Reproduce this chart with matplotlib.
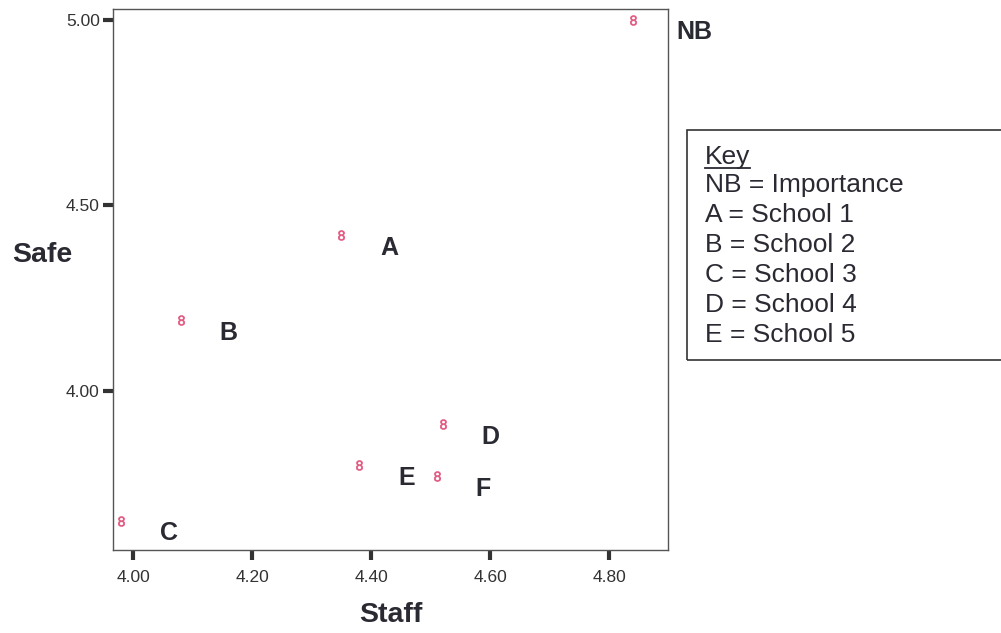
import matplotlib
matplotlib.use("Agg")
import matplotlib.pyplot as plt
from matplotlib.patches import Rectangle
from matplotlib.lines import Line2D

plt.rcParams['font.family'] = ['Liberation Sans', 'DejaVu Sans']

# punts llegits del gràfic (Staff, Safe)
labels = ['NB', 'A', 'B', 'C', 'D', 'E', 'F']
staff = [4.84, 4.35, 4.08, 3.98, 4.52, 4.38, 4.51]
safe = [5.00, 4.42, 4.19, 3.65, 3.91, 3.80, 3.77]

xticks = [4.00, 4.20, 4.40, 4.60, 4.80]
yticks = [4.00, 4.50, 5.00]

key_lines = ['NB = Importance', 'A = School 1', 'B = School 2', 'C = School 3',
             'D = School 4', 'E = School 5']

fig = plt.figure(figsize=(10.01, 6.33), dpi=100)
ax = fig.add_axes([0.1129, 0.1311, 0.5544, 0.8539])

ax.scatter(staff, safe, marker='$8$', s=50, color='#e0507a', linewidths=0.4, zorder=3)

for lab, x, y in zip(labels, staff, safe):
    dx = 31 if lab == 'NB' else 28
    ax.annotate(lab, (x, y), xytext=(dx, -9), textcoords='offset points',
                ha='left', va='center', fontsize=18, fontweight='bold',
                color='#2a2a33', annotation_clip=False)

ax.set_xlim(3.966, 4.899)
ax.set_ylim(3.571, 5.028)
ax.set_xticks(xticks)
ax.set_xticklabels([f'{v:.2f}' for v in xticks])
ax.set_yticks(yticks)
ax.set_yticklabels([f'{v:.2f}' for v in yticks])
ax.tick_params(length=7.5, width=3, color='#333333', labelsize=12.5,
               labelcolor='#333333')
ax.tick_params(axis='x', pad=7)
ax.tick_params(axis='y', pad=2)
for s in ax.spines.values():
    s.set_color('#555555')
    s.set_linewidth(1)

ax.set_xlabel('Staff', fontsize=20.5, fontweight='bold', color='#2a2a33', labelpad=12)
fig.text(0.042, 1 - 255 / 633, 'Safe', fontsize=20.5, fontweight='bold',
         color='#2a2a33', ha='center', va='center')

# caixa de la llegenda
box = Rectangle((687 / 1001, 1 - 360 / 633), 0.4, 230 / 633, transform=fig.transFigure,
                fill=False, edgecolor='#333333', linewidth=1.2)
fig.patches.append(box)

fs = 19
tx = 705 / 1001
t = fig.text(tx, 1 - 157 / 633, 'Key', fontsize=fs, color='#2a2a33', va='center')
fig.canvas.draw()
bb = t.get_window_extent().transformed(fig.transFigure.inverted())
fig.lines.append(Line2D([bb.x0, bb.x1], [1 - 168 / 633, 1 - 168 / 633],
                        transform=fig.transFigure, color='#2a2a33', linewidth=1.3))
for i, line in enumerate(key_lines):
    fig.text(tx, 1 - (185 + 30 * i) / 633, line, fontsize=fs, color='#2a2a33', va='center')

fig.savefig('out.png', dpi=100)
